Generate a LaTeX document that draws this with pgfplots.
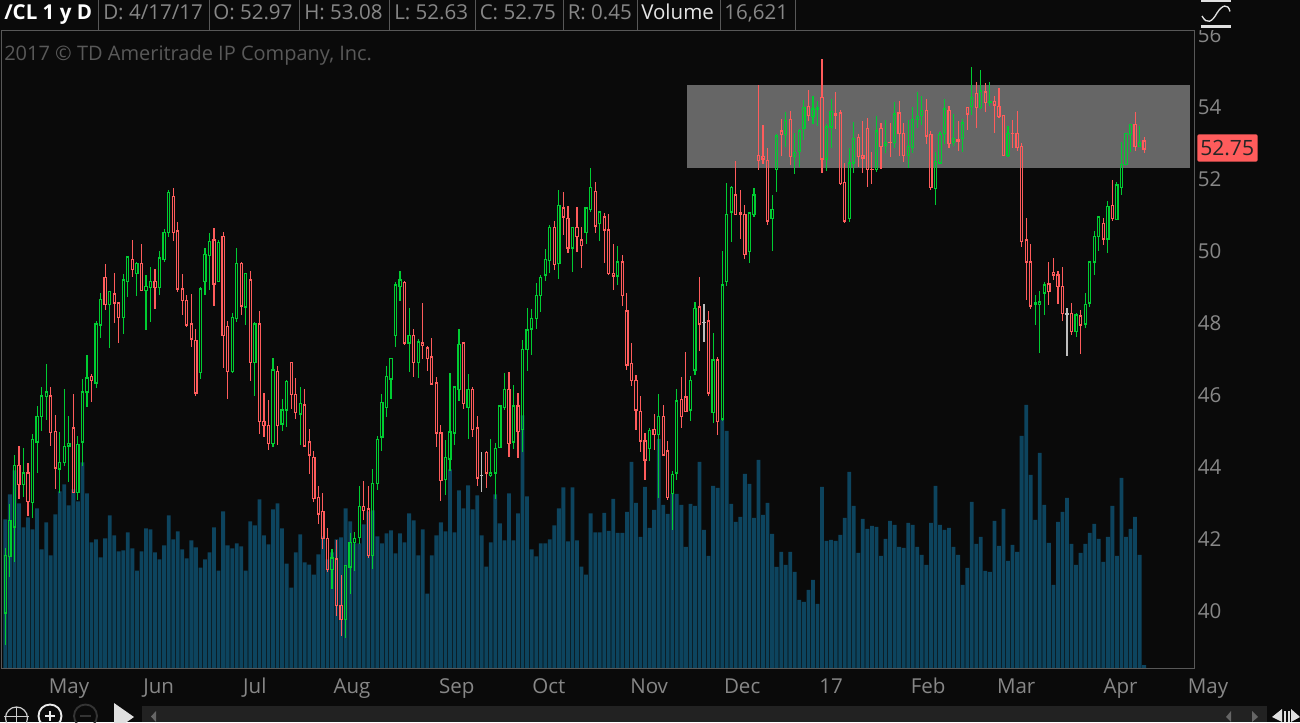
\documentclass[border=0pt]{standalone}
\usepackage{fontspec}
\setmainfont{Open Sans}
\usepackage{pgfplots}
\usepackage{pgfplotstable}
\pgfplotsset{compat=1.18}
\definecolor{bg}{RGB}{10,10,10}
\definecolor{up}{RGB}{0,205,50}
\definecolor{dn}{RGB}{255,92,92}
\definecolor{fl}{RGB}{190,190,190}
\definecolor{vol}{RGB}{13,68,94}
\definecolor{band}{RGB}{102,102,102}
\definecolor{frame}{RGB}{88,88,88}
\definecolor{lab}{RGB}{135,135,135}
% i top bot high low
\pgfplotstableread[row sep=\\]{
i top bot hi lo\\
0 41.47 39.86 41.67 38.97\\ 1 42.42 41.42 42.89 40.87\\ 2 43.97 42.25 44.25 41.28\\ 4 43.75 43.42 44.44 43.08\\
6 44.67 42.94 44.83 42.50\\ 7 45.33 44.61 45.61 43.75\\ 8 45.89 45.31 46.14 44.91\\ 9 46.00 45.87 46.78 45.22\\
12 44.05 43.86 44.88 43.20\\ 13 44.48 44.03 46.08 43.94\\ 14 44.56 44.50 45.33 43.50\\ 16 44.53 43.22 44.78 43.00\\
17 46.00 44.61 46.36 43.94\\ 18 46.39 46.00 47.03 45.58\\ 20 47.89 46.25 47.97 46.11\\ 21 48.58 47.86 48.75 47.50\\
23 48.78 48.42 48.78 47.22\\ 26 49.11 48.06 49.28 47.61\\ 27 49.75 49.06 49.75 48.64\\ 29 49.56 49.28 49.61 48.67\\
31 48.92 48.81 49.25 47.72\\ 32 49.06 48.89 49.47 47.94\\ 34 49.72 48.89 49.92 48.69\\ 35 50.44 49.69 50.53 49.61\\
36 51.53 50.42 51.61 50.31\\ 43 48.86 46.53 48.92 46.36\\ 44 49.83 49.06 50.00 48.69\\ 45 50.19 49.78 50.42 48.83\\
47 50.14 49.06 50.22 49.06\\ 50 48.08 46.56 48.19 46.53\\ 51 49.56 48.03 50.00 47.94\\ 53 49.28 48.36 49.31 47.86\\
55 47.89 46.81 47.94 45.89\\ 59 46.61 44.58 46.94 44.47\\ 61 45.50 45.11 45.81 44.91\\ 62 46.28 45.50 46.33 45.03\\
65 45.67 45.39 46.14 44.53\\ 72 41.39 41.08 41.64 40.53\\ 75 41.17 39.67 41.19 39.17\\ 76 41.81 41.14 42.08 40.39\\
77 41.94 41.81 42.11 41.03\\ 78 42.83 41.97 43.39 41.78\\ 81 43.47 41.47 43.86 41.08\\ 82 44.69 43.47 44.78 43.28\\
83 45.72 44.75 45.94 44.36\\ 84 46.42 45.56 46.72 45.31\\ 85 46.94 46.36 46.94 45.81\\ 86 48.97 47.58 49.06 47.25\\
87 49.11 48.94 49.36 48.53\\ 89 47.58 47.36 48.33 46.56\\ 91 47.39 46.81 47.47 46.39\\ 97 44.19 43.56 44.67 43.14\\
98 44.89 44.14 46.53 43.81\\ 99 46.14 44.86 46.17 44.53\\ 100 47.33 46.08 47.75 45.75\\ 102 46.06 45.56 46.50 44.69\\
107 43.75 43.67 44.69 43.64\\ 108 44.42 43.75 44.58 43.03\\ 109 45.61 44.47 45.64 44.47\\ 110 46.08 45.58 46.53 45.50\\
112 45.61 44.61 46.19 44.42\\ 114 47.17 44.97 47.44 44.33\\ 115 47.72 47.19 48.33 46.58\\ 116 48.03 47.75 48.31 47.03\\
117 48.67 48.03 49.03 47.75\\ 118 49.19 48.67 49.25 48.22\\ 119 49.69 49.25 49.97 49.08\\ 120 50.56 49.64 50.64 49.31\\
122 51.17 49.58 51.61 49.14\\ 125 50.56 50.00 50.58 49.33\\ 128 51.11 50.44 51.11 50.11\\ 129 51.67 51.08 52.22 51.00\\
131 51.00 50.67 51.03 50.19\\ 135 49.61 49.22 50.06 48.97\\ 142 44.94 44.42 45.00 44.08\\ 144 45.33 44.83 45.94 43.06\\
147 43.72 43.19 43.81 42.17\\ 148 45.75 43.75 46.08 43.56\\ 151 46.33 45.50 46.44 45.19\\ 152 48.33 46.61 48.50 46.47\\
156 46.89 45.44 47.64 45.14\\ 158 48.97 45.25 49.92 45.19\\ 159 50.92 49.08 51.81 48.94\\ 160 51.69 51.00 51.72 50.17\\
164 50.97 49.89 50.97 49.58\\ 165 51.47 50.92 51.67 50.86\\ 169 51.08 50.81 51.47 49.92\\ 170 53.11 52.19 53.17 51.56\\
172 53.53 53.14 53.78 52.81\\ 174 52.64 52.53 53.19 52.06\\ 175 53.25 52.69 53.31 52.25\\ 176 53.89 53.31 54.11 53.00\\
178 53.86 53.64 54.22 53.44\\ 179 53.89 53.86 54.08 53.39\\ 181 53.36 52.47 53.44 52.14\\ 182 53.78 53.36 54.14 52.78\\
186 52.36 50.81 52.78 50.72\\ 187 53.03 52.36 53.50 52.08\\ 192 53.25 52.19 53.67 52.11\\ 194 52.92 52.86 53.56 52.64\\
196 53.72 52.94 54.06 52.78\\ 199 52.81 52.58 53.56 52.22\\ 200 53.56 52.78 53.92 52.64\\ 201 53.64 53.58 54.33 53.33\\
202 53.83 53.69 54.22 53.42\\ 205 52.39 51.64 52.67 51.19\\ 206 53.14 52.36 53.22 52.36\\ 207 53.86 53.17 54.14 52.89\\
209 53.03 52.92 53.72 52.83\\ 211 53.47 53.03 53.58 52.67\\ 213 54.19 53.92 55.03 53.69\\ 215 54.36 53.89 54.94 53.86\\
217 54.06 54.03 54.61 53.94\\ 221 53.19 52.56 53.39 52.53\\ 227 48.47 48.44 48.69 47.86\\ 228 48.50 48.44 48.81 47.08\\
229 48.97 48.75 49.06 48.14\\ 236 48.14 47.67 48.19 47.53\\ 238 48.44 47.89 48.75 47.78\\ 239 49.61 48.47 49.64 48.36\\
240 50.33 49.61 50.47 49.25\\ 241 50.86 50.33 50.86 49.92\\ 243 51.14 50.25 51.31 49.86\\ 245 51.75 50.78 51.83 50.78\\
246 52.31 51.69 52.94 51.47\\ 247 53.17 52.31 53.19 52.31\\ 248 53.42 53.14 53.44 52.67\\ 250 52.92 52.83 53.39 52.81\\
}\tup
\pgfplotstableread[row sep=\\]{
i top bot hi lo\\
3 43.97 43.42 44.50 43.03\\ 5 43.75 42.97 44.03 42.56\\ 10 45.89 44.88 46.14 44.50\\ 11 44.91 43.89 45.36 43.31\\
15 45.00 43.22 45.95 43.22\\ 19 46.42 46.33 46.50 45.72\\ 22 49.19 48.42 49.56 48.28\\ 24 48.72 48.47 49.31 47.92\\
25 48.47 48.08 48.50 47.36\\ 28 49.69 49.39 50.22 49.19\\ 30 49.56 48.81 50.11 48.81\\ 33 49.06 48.89 49.42 48.31\\
37 51.44 50.44 51.67 50.19\\ 38 50.47 48.86 50.72 48.78\\ 39 48.86 48.53 49.28 48.14\\ 40 48.53 47.86 48.69 47.81\\
41 47.89 47.47 48.72 47.25\\ 42 47.44 45.97 47.75 45.89\\ 46 50.22 49.00 50.56 48.39\\ 48 50.31 47.56 50.44 46.67\\
49 47.81 46.58 47.97 45.81\\ 52 49.56 48.39 49.61 48.14\\ 54 49.11 46.83 49.36 46.31\\ 56 47.89 45.17 48.25 44.83\\
57 45.19 45.08 45.97 44.75\\ 58 45.08 44.56 45.78 44.39\\ 60 46.58 45.08 46.72 44.53\\ 63 46.83 45.92 46.83 45.53\\
64 45.94 45.42 46.39 45.25\\ 66 45.64 44.50 46.08 44.50\\ 67 44.61 44.25 44.97 43.72\\ 68 44.19 43.03 44.36 42.94\\
69 43.08 42.61 43.39 42.33\\ 70 42.67 41.92 43.19 41.64\\ 71 41.92 41.08 42.22 41.00\\ 73 41.36 40.08 41.89 39.78\\
74 40.08 39.69 40.92 39.22\\ 79 42.83 42.72 43.53 42.44\\ 80 42.75 41.47 43.39 41.39\\ 88 49.03 47.36 49.08 47.31\\
90 47.58 46.81 47.75 46.42\\ 92 47.36 47.28 48.47 46.92\\ 93 47.22 46.94 47.28 46.58\\ 94 46.97 46.22 47.50 46.22\\
95 46.25 44.86 46.42 44.47\\ 96 44.86 43.53 45.08 42.97\\ 101 47.36 45.69 47.36 45.53\\ 103 46.06 44.97 46.14 44.75\\
104 45.00 43.61 45.33 43.39\\ 106 44.33 43.75 44.36 43.33\\ 111 46.08 44.58 46.56 44.19\\ 113 45.61 44.91 45.97 44.17\\
121 50.58 49.53 50.75 49.39\\ 123 51.11 50.86 51.56 50.36\\ 124 50.83 50.00 51.17 49.86\\ 126 50.58 50.33 51.14 49.89\\
127 50.22 50.08 50.58 49.44\\ 130 51.58 50.61 51.83 50.42\\ 132 50.86 50.50 50.97 49.58\\ 133 50.50 49.28 50.94 49.25\\
134 49.28 49.22 50.11 48.83\\ 136 49.61 48.67 49.81 48.39\\ 137 48.25 46.75 48.75 46.61\\ 138 46.78 46.33 47.36 46.17\\
139 46.33 45.50 46.47 44.94\\ 140 45.47 44.64 45.89 44.33\\ 141 44.64 44.11 44.86 43.56\\ 143 44.97 44.81 45.39 44.39\\
145 45.31 44.25 45.64 44.22\\ 146 44.36 43.08 44.64 43.00\\ 149 45.78 45.33 46.42 45.00\\ 150 45.86 45.47 47.11 45.44\\
153 48.36 47.89 49.19 47.14\\ 155 47.97 45.97 48.25 45.89\\ 157 46.89 45.19 46.97 44.81\\ 161 51.47 50.92 52.42 50.92\\
162 50.97 50.92 51.61 50.25\\ 163 50.94 49.83 51.19 49.69\\ 166 52.56 52.42 54.53 52.17\\ 167 52.53 52.47 53.42 52.33\\
168 52.44 50.75 52.78 50.64\\ 171 53.25 53.14 53.58 52.56\\ 173 53.56 52.53 53.81 52.31\\ 177 53.94 53.67 54.39 53.53\\
180 54.19 52.47 55.25 52.08\\ 183 53.72 53.69 54.33 53.31\\ 184 53.75 51.78 53.83 51.75\\ 185 51.83 50.75 52.36 50.69\\
188 53.06 52.53 53.17 52.25\\ 189 52.56 52.50 53.53 52.08\\ 190 53.33 52.19 53.61 51.69\\ 191 52.19 52.17 52.67 51.78\\
193 53.33 52.81 53.47 52.19\\ 195 52.94 52.92 53.47 52.53\\ 197 53.75 53.19 54.08 52.56\\ 198 53.17 52.56 53.47 52.39\\
203 53.81 53.11 54.14 52.89\\ 204 53.14 51.69 53.25 51.61\\ 208 53.81 52.89 53.94 52.78\\ 210 53.00 52.97 53.53 52.69\\
212 53.89 53.72 53.92 53.28\\ 214 54.28 53.89 54.61 53.33\\ 216 54.33 54.03 54.58 53.78\\ 218 54.06 53.97 54.22 53.19\\
219 53.94 53.64 54.44 53.61\\ 220 53.69 52.56 53.69 52.56\\ 222 53.19 53.17 53.56 52.78\\ 223 53.17 52.78 53.81 52.69\\
224 52.81 50.19 52.92 50.03\\ 225 50.22 49.61 50.83 48.56\\ 226 49.61 48.39 50.11 48.31\\ 230 49.00 48.78 49.61 48.42\\
231 49.31 49.25 49.72 49.11\\ 232 49.25 48.92 49.36 48.44\\ 233 48.92 48.17 49.47 47.97\\ 235 48.17 47.67 48.47 47.58\\
237 48.11 47.86 48.28 47.06\\ 242 50.69 50.25 50.83 50.08\\ 244 51.19 50.83 51.89 50.75\\ 249 53.42 52.83 53.78 52.69\\
251 52.97 52.75 53.08 52.63\\
}\tdn
\pgfplotstableread[row sep=\\]{
i top bot hi lo\\
105 43.69 43.67 44.33 43.22\\ 154 47.94 47.92 48.44 47.39\\ 234 48.17 48.15 48.33 47.00\\
}\tfl
% i volume (thousands)
\pgfplotstableread[row sep=\\]{
i v\\
0 745\\ 1 870\\ 2 990\\ 3 825\\ 4 705\\ 5 755\\ 6 695\\ 7 800\\ 8 595\\ 9 730\\ 10 565\\ 11 770\\ 12 885\\ 13 920\\ 14 815\\ 15 895\\
16 835\\ 17 1030\\ 18 875\\ 19 630\\ 20 645\\ 21 555\\ 22 650\\ 23 765\\ 24 665\\ 25 585\\ 26 590\\ 27 680\\ 28 600\\ 29 490\\ 30 585\\ 31 700\\
32 695\\ 33 580\\ 34 545\\ 35 615\\ 36 765\\ 37 645\\ 38 685\\ 39 595\\ 40 550\\ 41 640\\ 42 605\\ 43 505\\ 44 545\\ 45 580\\ 46 705\\ 47 490\\
48 785\\ 49 615\\ 50 600\\ 51 625\\ 52 610\\ 53 490\\ 54 735\\ 55 715\\ 56 845\\ 57 665\\ 58 620\\ 59 795\\ 60 825\\ 61 700\\ 62 525\\ 63 405\\
64 580\\ 65 670\\ 66 530\\ 67 520\\ 68 470\\ 69 570\\ 70 660\\ 71 545\\ 72 580\\ 73 645\\ 74 655\\ 75 800\\ 76 735\\ 77 625\\ 78 625\\ 79 720\\
80 785\\ 81 790\\ 82 660\\ 83 625\\ 84 675\\ 85 690\\ 86 575\\ 87 675\\ 88 630\\ 89 775\\ 90 740\\ 91 565\\ 92 695\\ 93 375\\ 94 565\\ 95 665\\
96 730\\ 97 685\\ 98 995\\ 99 680\\ 100 890\\ 101 800\\ 102 915\\ 103 795\\ 104 865\\ 105 665\\ 106 510\\ 107 630\\ 108 870\\ 109 725\\ 110 640\\ 111 875\\
112 640\\ 113 775\\ 114 1265\\ 115 860\\ 116 595\\ 117 560\\ 118 625\\ 119 625\\ 120 645\\ 121 715\\ 122 800\\ 123 905\\ 124 635\\ 125 905\\ 126 640\\ 127 510\\
128 470\\ 129 775\\ 130 680\\ 131 680\\ 132 778\\ 133 688\\ 134 848\\ 135 678\\ 136 678\\ 137 783\\ 138 1033\\ 139 828\\ 140 658\\ 141 908\\ 142 703\\ 143 793\\
144 1148\\ 145 818\\ 146 773\\ 147 873\\ 148 873\\ 149 818\\ 150 608\\ 151 823\\ 152 813\\ 153 1033\\ 154 693\\ 155 563\\ 156 913\\ 157 903\\ 158 1243\\ 159 1188\\
160 823\\ 161 733\\ 162 758\\ 163 973\\ 164 923\\ 165 753\\ 166 1043\\ 167 768\\ 168 828\\ 169 673\\ 170 508\\ 171 583\\ 172 518\\ 173 583\\ 174 483\\ 175 343\\
176 333\\ 177 393\\ 178 443\\ 179 323\\ 180 908\\ 181 638\\ 182 643\\ 183 638\\ 184 668\\ 185 753\\ 186 983\\ 187 813\\ 188 578\\ 189 748\\ 190 698\\ 191 713\\
192 708\\ 193 563\\ 194 648\\ 195 738\\ 196 718\\ 197 608\\ 198 603\\ 199 728\\ 200 718\\ 201 608\\ 202 568\\ 203 518\\ 204 728\\ 205 913\\ 206 718\\ 207 693\\
208 703\\ 209 608\\ 210 568\\ 211 418\\ 212 503\\ 213 833\\ 214 623\\ 215 658\\ 216 488\\ 217 483\\ 218 738\\ 219 613\\ 220 798\\ 221 538\\ 222 618\\ 223 583\\
224 1163\\ 225 1318\\ 226 968\\ 227 743\\ 228 1078\\ 229 818\\ 230 628\\ 231 418\\ 232 733\\ 233 783\\ 234 853\\ 235 623\\ 236 518\\ 237 578\\ 238 623\\ 239 678\\
240 723\\ 241 648\\ 242 533\\ 243 658\\ 244 813\\ 245 563\\ 246 953\\ 247 658\\ 248 698\\ 249 758\\ 250 568\\ 251 16.621\\
}\tvol
\def\lw{0.85pt}
\def\bw{0.24}
\pgfplotsset{
  cbar/.style={forget plot,only marks,mark size=0pt,mark options={draw=none,fill=none},#1,error bars/error mark=none},
}
\newcommand\candleset[2]{%
 \addplot[cbar=#1,error bars/.cd,y dir=minus,y explicit,error bar style={#1,line width=\lw,line cap=rect}]
   table[x expr=\thisrow{i}-\bw,y=top,y error expr=\thisrow{top}-\thisrow{bot}] {#2};
 \addplot[cbar=#1,error bars/.cd,y dir=minus,y explicit,error bar style={#1,line width=\lw,line cap=rect}]
   table[x expr=\thisrow{i}+\bw,y=top,y error expr=\thisrow{top}-\thisrow{bot}] {#2};
 \addplot[cbar=#1,error bars/.cd,x dir=plus,x fixed=0.48,error bar style={#1,line width=\lw,line cap=rect}]
   table[x expr=\thisrow{i}-\bw,y=top] {#2};
 \addplot[cbar=#1,error bars/.cd,x dir=plus,x fixed=0.48,error bar style={#1,line width=\lw,line cap=rect}]
   table[x expr=\thisrow{i}-\bw,y=bot] {#2};
 \addplot[cbar=#1,error bars/.cd,y dir=plus,y explicit,error bar style={#1,line width=\lw}]
   table[x=i,y=top,y error expr=\thisrow{hi}-\thisrow{top}] {#2};
 \addplot[cbar=#1,error bars/.cd,y dir=minus,y explicit,error bar style={#1,line width=\lw}]
   table[x=i,y=bot,y error expr=\thisrow{bot}-\thisrow{lo}] {#2};
}
\begin{document}
\begin{tikzpicture}
\fill[bg] (0,0) rectangle (975pt,541.5pt);
\useasboundingbox (0,0) rectangle (975pt,541.5pt);
% volume
\begin{axis}[
  at={(1.125pt,40.125pt)},anchor=south west,scale only axis,
  width=894.75pt,height=478.5pt,
  xmin=-0.844,xmax=262.1,ymin=0,ymax=3190,hide axis,
  ybar,bar width=2.85pt]
\addplot[fill=vol,draw=none] table[x=i,y=v] {\tvol};
\end{axis}
% price
\begin{axis}[
  at={(1.125pt,40.125pt)},anchor=south west,scale only axis,
  width=894.75pt,height=478.5pt,
  xmin=-0.844,xmax=262.1,ymin=38.32,ymax=56.04,
  axis line style={frame,line width=0.75pt},
  tick style={draw=none},major tick length=0pt,
  /pgf/number format/assume math mode=true,
  ytick={40,42,...,56},yticklabel pos=right,
  yticklabel style={anchor=west,inner sep=0pt,xshift=2.4pt,yshift=-2.1pt,text=lab,font=\fontsize{15.4}{18}\selectfont},
  xtick={14.03,33.8,55.0,76.4,99.5,119.8,141.9,162.4,182,203.4,222.8,245.8},
  xticklabels={May,Jun,Jul,Aug,Sep,Oct,Nov,Dec,17,Feb,Mar,Apr},
  xticklabel style={anchor=base,inner sep=0pt,yshift=-18.4pt,text=lab,font=\fontsize{15.4}{18}\selectfont}]
\addplot[fill=band,draw=none,forget plot] coordinates {(150.25,54.53)(261.1,54.53)(261.1,52.23)(150.25,52.23)} -- cycle;
\candleset{up}{\tup}
\candleset{dn}{\tdn}
\candleset{fl}{\tfl}
\end{axis}
\begin{scope}[x=0.75pt,y=-0.75pt,shift={(0pt,541.5pt)}]
 % header
 \fill[bg] (0,0) rectangle (1300,30);
 \foreach \s in {98.5,209.5,299.5,389.5,475,563,637,720,795}
   \draw[frame,line width=0.75pt] (\s,0) -- (\s,30);
 \def\hf{\fontsize{15.4}{18}\selectfont}
 \node[anchor=base west,inner sep=0,text=white,font=\hf\bfseries] at (4,20) {/CL 1 y D};
 \node[anchor=base west,inner sep=0,text=lab,font=\hf] at (103,20) {D: 4/17/17};
 \node[anchor=base west,inner sep=0,text=lab,font=\hf] at (213,20) {O: 52.97};
 \node[anchor=base west,inner sep=0,text=lab,font=\hf] at (304,20) {H: 53.08};
 \node[anchor=base west,inner sep=0,text=lab,font=\hf] at (394,20) {L: 52.63};
 \node[anchor=base west,inner sep=0,text=lab,font=\hf] at (479.5,20) {C: 52.75};
 \node[anchor=base west,inner sep=0,text=lab,font=\hf] at (567.5,20) {R: 0.45};
 \node[anchor=base west,inner sep=0,text=white!90!black,font=\hf] at (641,20) {Volume};
 \node[anchor=base west,inner sep=0,text=lab,font=\hf] at (724,20) {16,621};
 \node[anchor=base west,inner sep=0,text=black!65,font=\fontsize{15}{16}\selectfont] at (4,61) {2017 © TD Ameritrade IP Company, Inc.};
 \node[anchor=base,inner sep=0,text=lab,font=\hf] at (1208,693) {May};
 % last price tag
 \fill[dn,rounded corners=1.5pt] (1197.3,134.3) rectangle (1257.7,161.7);
 \node[anchor=west,inner sep=0,text=black!85,font=\fontsize{15.8}{18}\selectfont] at (1200,148.5) {52.75};
 % study icon
 \fill[white!88!black] (1201,0) rectangle (1231,2.5);
 \fill[white!88!black] (1201,25.5) rectangle (1231,28.5);
 \draw[white!88!black,line width=1pt] (1202,16) .. controls (1207,25) and (1212,22) .. (1217,13) .. controls (1222,5) and (1228,3) .. (1230,11.5);
 % bottom controls
 \fill[white!10!bg] (142,706) rectangle (1267,722);
 \draw[white!80!black,line width=0.9pt] (16.5,718) circle (11);
 \draw[white!80!black,line width=0.9pt] (4,716.5) -- (29,716.5) (16.5,707) -- (16.5,722);
 \draw[white!92!black,line width=1.4pt] (50,716) circle (11.5);
 \draw[white!92!black,line width=1.2pt] (45,716) -- (55,716) (50,711) -- (50,721);
 \draw[white!17!bg,line width=1.4pt] (85.5,716) circle (11.5);
 \draw[white!17!bg,line width=1.2pt] (80,716) -- (91,716);
 \fill[white!88!black] (114,703) -- (134,717) -- (114,731) -- cycle;
 \fill[white!40!black] (156,711) -- (151,716.5) -- (156,722) -- cycle;
 \fill[white!40!black] (1231,711) -- (1226,717) -- (1231,722) -- cycle;
 \fill[white!40!black] (1252,711) -- (1258,717) -- (1252,722) -- cycle;
 \fill[white!88!black] (1282,709) -- (1272,717) -- (1282,722) -- cycle;
 \fill[white!88!black] (1284,711) rectangle (1286,722);
 \fill[white!88!black] (1287.5,711) rectangle (1289.5,722);
 \fill[white!88!black] (1291,709) -- (1300,717) -- (1291,722) -- cycle;
\end{scope}
\end{tikzpicture}
\end{document}
